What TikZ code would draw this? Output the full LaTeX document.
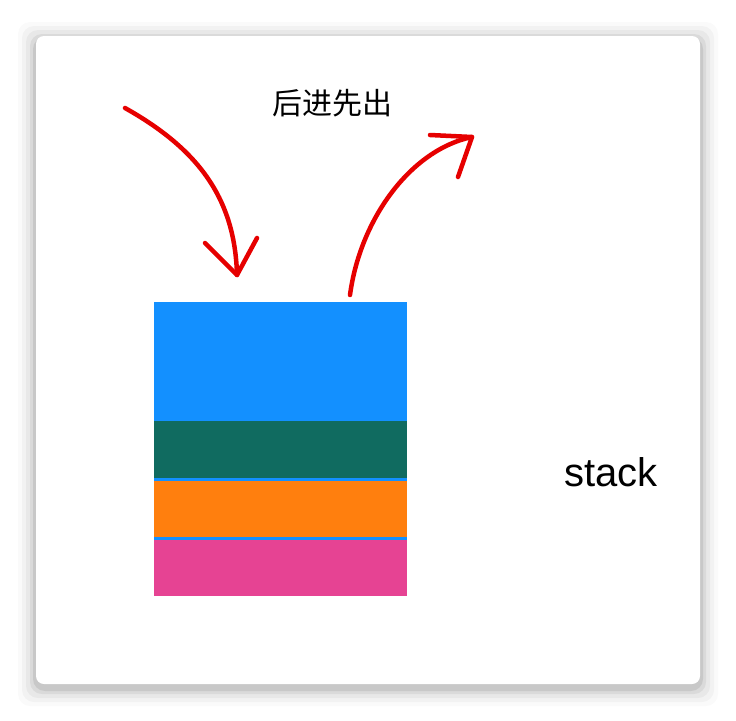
\documentclass[tikz,border=0pt]{standalone}
\usepackage{fontspec}
\setsansfont{Liberation Sans}
\newfontfamily\cjk{Noto Sans CJK SC}
\begin{document}
\begin{tikzpicture}[x=1pt,y=-1pt,
  layer/.style={draw=none,inner sep=0,minimum width=253pt,anchor=north west},
  redarrow/.style={draw={rgb,255:red,230;green,0;blue,0},line width=4.5pt,line cap=round,line join=round}]
\useasboundingbox (0,0) rectangle (736,720);
\fill[white] (0,0) rectangle (736,720);
\foreach \i/\o in {18/0.02,14/0.03,10/0.04,6/0.06,3/0.08}{
  \fill[black,opacity=\o,rounded corners=12pt] (36-\i,36-\i+4) rectangle (700+\i,684+\i+4);}
\fill[white,rounded corners=8pt] (36,36) rectangle (700,684);
\node[layer,fill={rgb,255:red,19;green,144;blue,255},minimum height=120pt] (blue) at (154,302) {};
\node[layer,fill={rgb,255:red,19;green,144;blue,255},minimum height=120pt] (line) at (154,421) {};
\node[layer,fill={rgb,255:red,16;green,107;blue,96},minimum height=57pt] (teal) at (154,421) {};
\node[layer,fill={rgb,255:red,255;green,127;blue,14},minimum height=56pt] (orange) at (154,481) {};
\node[layer,fill={rgb,255:red,230;green,67;blue,147},minimum height=56pt] (pink) at (154,540) {};
\node[font=\cjk\fontsize{30}{30}\selectfont] (title) at (332,103) {后进先出};
\node[font=\sffamily\fontsize{40}{40}\selectfont] (stack) at (611,472) {stack};
\coordinate (a1) at (125,108); \coordinate (a2) at (237,275);
\draw[redarrow] (a1) .. controls (200,150) and (235,200) .. (a2);
\draw[redarrow] (205,243) -- (a2) -- (257,238);
\coordinate (b1) at (350,295); \coordinate (b2) at (472,137);
\draw[redarrow] (b1) .. controls (360,220) and (410,150) .. (b2);
\draw[redarrow] (430,135) -- (b2) -- (458,177);
\end{tikzpicture}
\end{document}
